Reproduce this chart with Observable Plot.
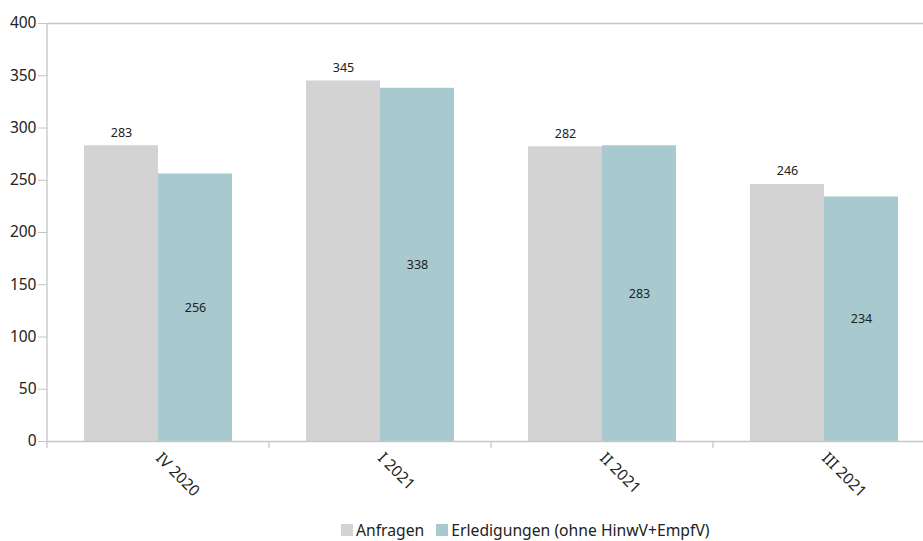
<!DOCTYPE html>
<html>
<head>
<meta charset="utf-8">
<script src="https://cdn.jsdelivr.net/npm/d3@7"></script>
<script src="https://cdn.jsdelivr.net/npm/@observablehq/plot@0.6"></script>
<style>
  html, body { margin: 0; padding: 0; background: #fff; overflow: hidden; }
  body { width: 923px; height: 541px; position: relative; font-family: "Noto Sans", sans-serif; }
  #chart { position: absolute; left: 0; top: 0; width: 935px; }
  #chart svg { max-width: none !important; }
  #legend { position: absolute; left: 341px; top: 519px; display: flex; align-items: center; font-size: 15.7px; color: #222; white-space: nowrap; }
  .sw { width: 12px; height: 12px; display: inline-block; margin-right: 3px; }
  .item { display: flex; align-items: center; margin-right: 12px; }
</style>
</head>
<body>
<div id="chart"></div>
<div id="legend"></div>
<script>
const periods = ["IV 2020", "I 2021", "II 2021", "III 2021"];
const seriesNames = ["Anfragen", "Erledigungen (ohne HinwV+EmpfV)"];
const anfragen = [283, 345, 282, 246];
const erledigungen = [256, 338, 283, 234];
const yTicks = [0, 50, 100, 150, 200, 250, 300, 350, 400];
const colors = ["#d3d3d3", "#a8c9cd"];

const data = periods.flatMap((p, i) => [
  {period: p, series: seriesNames[0], value: anfragen[i]},
  {period: p, series: seriesNames[1], value: erledigungen[i]}
]);

const plot = Plot.plot({
  width: 935,
  height: 505,
  marginLeft: 47,
  marginRight: 0,
  marginTop: 23,
  marginBottom: 64,
  style: {fontFamily: "'Noto Sans', sans-serif", fontSize: "15px", color: "#222", background: "#fff"},
  fx: {domain: periods, padding: 0, label: null},
  x: {domain: seriesNames, paddingInner: 0, paddingOuter: 0.5, axis: null},
  y: {domain: [0, 400], label: null},
  color: {domain: seriesNames, range: colors},
  marks: [
    Plot.barY(data, {fx: "period", x: "series", y: "value", fill: "series"}),
    Plot.ruleY([0, 400], {stroke: "#c6c6c6", strokeWidth: 1.3}),
    Plot.axisY(yTicks, {tickSize: 9, tickPadding: 2, fontSize: 15.5, stroke: "#c4c4c4", fill: "#222", label: null}),
    Plot.axisFx({anchor: "bottom", tickRotate: 45, tickSize: 0, tickPadding: 14, fontSize: 15.5, fill: "#222", label: null}),
    Plot.text(data.filter(d => d.series === seriesNames[0]), {
      fx: "period", x: "series", y: "value", text: "value", dy: -9, lineAnchor: "bottom", fontSize: 12.5, fill: "#222"
    }),
    Plot.text(data.filter(d => d.series === seriesNames[1]), {
      fx: "period", x: "series", y: d => d.value / 2, text: "value", fontSize: 12.5, fill: "#222"
    })
  ]
});
plot.style.maxWidth = "none";

// category boundary ticks and left axis line, positioned through the plot's own scales
const fxs = plot.scale("fx");
const ys = plot.scale("y");
const band = d3.scaleBand().domain(fxs.domain).range(fxs.range).paddingInner(0).paddingOuter(0);
const yAt = v => ys.range[0] + (v - ys.domain[0]) / (ys.domain[1] - ys.domain[0]) * (ys.range[1] - ys.range[0]);
const svg = d3.select(plot);
const g = svg.append("g").attr("stroke", "#c6c6c6").attr("stroke-width", 1.3);
const bounds = fxs.domain.map(p => band(p)).concat([band(fxs.domain[fxs.domain.length - 1]) + band.bandwidth()]);
g.selectAll("line.b").data(bounds).join("line")
  .attr("x1", d => d).attr("x2", d => d)
  .attr("y1", yAt(0)).attr("y2", yAt(0) + 7);
g.append("line").attr("x1", bounds[0]).attr("x2", bounds[0]).attr("y1", yAt(400)).attr("y2", yAt(0));

document.getElementById("chart").appendChild(plot);

const legend = d3.select("#legend");
seriesNames.forEach((s, i) => {
  const it = legend.append("div").attr("class", "item");
  it.append("span").attr("class", "sw").style("background", colors[i]);
  it.append("span").text(s);
});
</script>
</body>
</html>
